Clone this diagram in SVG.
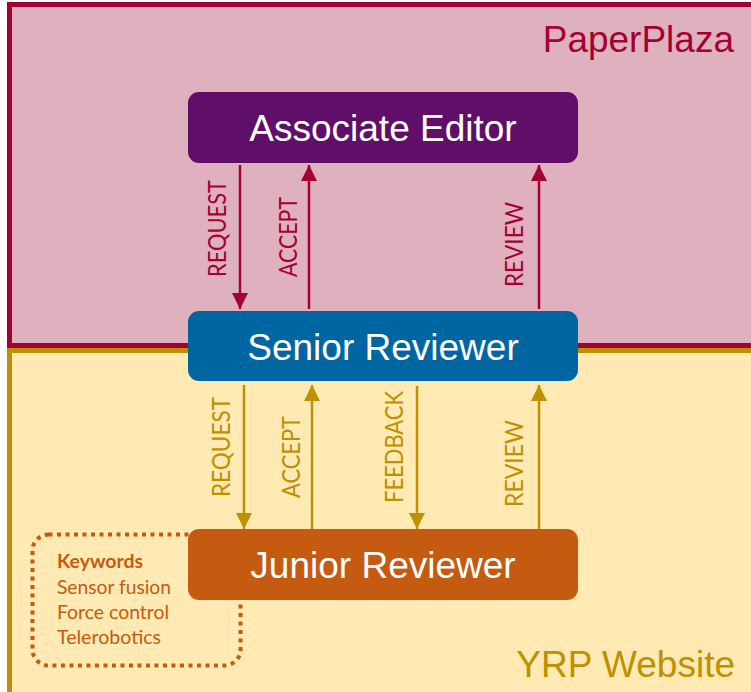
<svg xmlns="http://www.w3.org/2000/svg" width="751" height="692" viewBox="0 0 751 692">
  <defs>
    <style>
      .region-label { font-family: "Liberation Sans", Arial, sans-serif; font-size: 37px; text-anchor: end; }
      .node-text { font-family: "Liberation Sans", Arial, sans-serif; font-size: 37px; fill: #FFFFFF; text-anchor: middle; }
      .lbl { font-family: Lato, "Liberation Sans", sans-serif; font-size: 25px; }
      .lbl-red { fill: #A50034; }
      .lbl-gold { fill: #BF9000; }
      .arr-red { stroke: #A50034; stroke-width: 2.5; fill: none; marker-end: url(#headRed); }
      .arr-gold { stroke: #BF9000; stroke-width: 2.5; fill: none; marker-end: url(#headGold); }
      .kw { font-family: Lato, "Liberation Sans", sans-serif; font-size: 19px; fill: #C55A11; }
    </style>
    <marker id="headRed" viewBox="0 0 16 16" refX="16" refY="8" markerWidth="16" markerHeight="16" markerUnits="userSpaceOnUse" orient="auto">
      <path d="M0,0 L16,8 L0,16 Z" fill="#A50034"/>
    </marker>
    <marker id="headGold" viewBox="0 0 16 16" refX="16" refY="8" markerWidth="16" markerHeight="16" markerUnits="userSpaceOnUse" orient="auto">
      <path d="M0,0 L16,8 L0,16 Z" fill="#BF9000"/>
    </marker>
  </defs>

  <rect x="0" y="0" width="751" height="692" fill="#FFFFFF"/>

  <g id="yrp-website">
    <rect x="9.5" y="350.5" width="760" height="360" fill="#FEEAB2" stroke="#BF9000" stroke-width="5"/>
    <text class="region-label" x="735" y="677" fill="#BF9000">YRP Website</text>
  </g>

  <g id="paperplaza">
    <rect x="9.5" y="4.5" width="760" height="341" fill="#DFB1BE" stroke="#A50034" stroke-width="5"/>
    <text class="region-label" x="734" y="52" fill="#A50034">PaperPlaza</text>
  </g>

  <g id="keywords">
    <rect x="32.5" y="534.5" width="208" height="131" rx="16" ry="16" fill="none" stroke="#C55A11" stroke-width="4" stroke-dasharray="4 4.5"/>
    <text class="kw" x="57" y="568" font-weight="bold" textLength="86" lengthAdjust="spacingAndGlyphs">Keywords</text>
    <text class="kw" x="57" y="594" textLength="114" lengthAdjust="spacingAndGlyphs">Sensor fusion</text>
    <text class="kw" x="57" y="619" textLength="112" lengthAdjust="spacingAndGlyphs">Force control</text>
    <text class="kw" x="57" y="644" textLength="104" lengthAdjust="spacingAndGlyphs">Telerobotics</text>
  </g>

  <g id="associate-editor">
    <rect x="188" y="92" width="390" height="71" rx="11" ry="11" fill="#5F0F68"/>
    <text class="node-text" x="383" y="141">Associate Editor</text>
  </g>

  <g id="senior-reviewer">
    <rect x="188" y="311" width="390" height="70" rx="11" ry="11" fill="#0066A1"/>
    <text class="node-text" x="383" y="360">Senior Reviewer</text>
  </g>

  <g id="junior-reviewer">
    <rect x="188" y="529" width="390" height="71" rx="11" ry="11" fill="#C55A11"/>
    <text class="node-text" x="383" y="578">Junior Reviewer</text>
  </g>

  <g id="connectors">
    <line class="arr-red" x1="240" y1="165" x2="240" y2="309"/>
    <line class="arr-red" x1="309" y1="309" x2="309" y2="165"/>
    <line class="arr-red" x1="539" y1="309" x2="539" y2="165"/>
    <line class="arr-gold" x1="244" y1="385" x2="244" y2="529"/>
    <line class="arr-gold" x1="312" y1="529" x2="312" y2="385"/>
    <line class="arr-gold" x1="417" y1="386" x2="417" y2="529"/>
    <line class="arr-gold" x1="539" y1="529" x2="539" y2="385"/>

    <text class="lbl lbl-red" transform="translate(226,277) rotate(-90)" textLength="97" lengthAdjust="spacingAndGlyphs">REQUEST</text>
    <text class="lbl lbl-red" transform="translate(297,277) rotate(-90)" textLength="80" lengthAdjust="spacingAndGlyphs">ACCEPT</text>
    <text class="lbl lbl-red" transform="translate(523,287) rotate(-90)" textLength="85" lengthAdjust="spacingAndGlyphs">REVIEW</text>

    <text class="lbl lbl-gold" transform="translate(230,497) rotate(-90)" textLength="100" lengthAdjust="spacingAndGlyphs">REQUEST</text>
    <text class="lbl lbl-gold" transform="translate(300,498) rotate(-90)" textLength="82" lengthAdjust="spacingAndGlyphs">ACCEPT</text>
    <text class="lbl lbl-gold" transform="translate(403,503) rotate(-90)" textLength="112" lengthAdjust="spacingAndGlyphs">FEEDBACK</text>
    <text class="lbl lbl-gold" transform="translate(523,507) rotate(-90)" textLength="87" lengthAdjust="spacingAndGlyphs">REVIEW</text>
  </g>
</svg>
